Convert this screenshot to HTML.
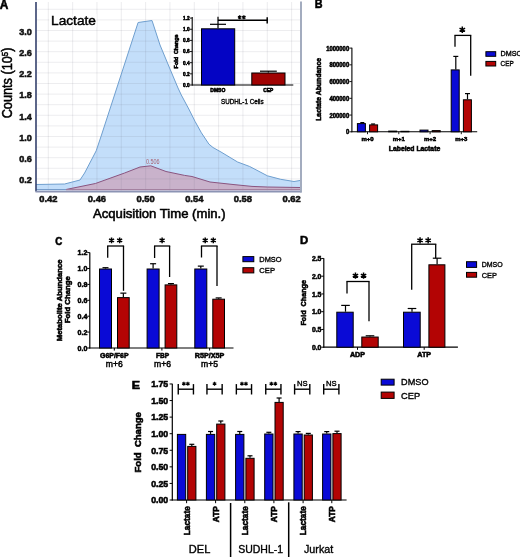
<!DOCTYPE html>
<html><head><meta charset="utf-8"><style>
html,body{margin:0;padding:0;background:#fff;}
svg{display:block;font-family:"Liberation Sans", sans-serif;will-change:transform;}
</style></head><body>
<svg width="520" height="557" viewBox="0 0 520 557">
<rect width="520" height="557" fill="#fff"/>
<polyline points="36,184.5 64.6,184 80,180 84.6,173 96.2,150.8 101.5,135 138.1,22.5 152,20.5 160,45 170,69 178,88 181.3,95 188.8,109 195.1,121.5 201.4,132.8 208.9,144.1 213,147.5 221,152 237.6,162 249.7,166.5 267.4,175.8 280.7,179.3 294,181.5 300,180.5 300,190.5 36,190.5" fill="#c3defa" stroke="none"/>
<polyline points="66,189.5 95.4,183.5 124.6,173 140,167 150.8,165.8 166,171.5 184.6,175.4 192,176.5 210,182 234,184.6 252,186.4 267.4,187 300,187.5 300,190.5 66,190.5" fill="#c9b2cb" stroke="none"/>
<line x1="48.3" y1="2" x2="48.3" y2="190.5" stroke="rgba(110,110,120,0.13)" stroke-width="1"/>
<line x1="72.63" y1="2" x2="72.63" y2="190.5" stroke="rgba(110,110,120,0.13)" stroke-width="1"/>
<line x1="96.96" y1="2" x2="96.96" y2="190.5" stroke="rgba(110,110,120,0.13)" stroke-width="1"/>
<line x1="121.29" y1="2" x2="121.29" y2="190.5" stroke="rgba(110,110,120,0.13)" stroke-width="1"/>
<line x1="145.62" y1="2" x2="145.62" y2="190.5" stroke="rgba(110,110,120,0.13)" stroke-width="1"/>
<line x1="169.95" y1="2" x2="169.95" y2="190.5" stroke="rgba(110,110,120,0.13)" stroke-width="1"/>
<line x1="194.28" y1="2" x2="194.28" y2="190.5" stroke="rgba(110,110,120,0.13)" stroke-width="1"/>
<line x1="218.61" y1="2" x2="218.61" y2="190.5" stroke="rgba(110,110,120,0.13)" stroke-width="1"/>
<line x1="242.94" y1="2" x2="242.94" y2="190.5" stroke="rgba(110,110,120,0.13)" stroke-width="1"/>
<line x1="267.27" y1="2" x2="267.27" y2="190.5" stroke="rgba(110,110,120,0.13)" stroke-width="1"/>
<line x1="291.6" y1="2" x2="291.6" y2="190.5" stroke="rgba(110,110,120,0.13)" stroke-width="1"/>
<line x1="36" y1="178.9" x2="300" y2="178.9" stroke="rgba(110,110,120,0.12)" stroke-width="1"/>
<line x1="36" y1="168.3" x2="300" y2="168.3" stroke="rgba(110,110,120,0.12)" stroke-width="1"/>
<line x1="36" y1="157.7" x2="300" y2="157.7" stroke="rgba(110,110,120,0.12)" stroke-width="1"/>
<line x1="36" y1="147.1" x2="300" y2="147.1" stroke="rgba(110,110,120,0.12)" stroke-width="1"/>
<line x1="36" y1="136.5" x2="300" y2="136.5" stroke="rgba(110,110,120,0.12)" stroke-width="1"/>
<line x1="36" y1="125.9" x2="300" y2="125.9" stroke="rgba(110,110,120,0.12)" stroke-width="1"/>
<line x1="36" y1="115.3" x2="300" y2="115.3" stroke="rgba(110,110,120,0.12)" stroke-width="1"/>
<line x1="36" y1="104.7" x2="300" y2="104.7" stroke="rgba(110,110,120,0.12)" stroke-width="1"/>
<line x1="36" y1="94.1" x2="300" y2="94.1" stroke="rgba(110,110,120,0.12)" stroke-width="1"/>
<line x1="36" y1="83.5" x2="300" y2="83.5" stroke="rgba(110,110,120,0.12)" stroke-width="1"/>
<line x1="36" y1="72.9" x2="300" y2="72.9" stroke="rgba(110,110,120,0.12)" stroke-width="1"/>
<line x1="36" y1="62.3" x2="300" y2="62.3" stroke="rgba(110,110,120,0.12)" stroke-width="1"/>
<line x1="36" y1="51.7" x2="300" y2="51.7" stroke="rgba(110,110,120,0.12)" stroke-width="1"/>
<line x1="36" y1="41.1" x2="300" y2="41.1" stroke="rgba(110,110,120,0.12)" stroke-width="1"/>
<line x1="36" y1="30.5" x2="300" y2="30.5" stroke="rgba(110,110,120,0.12)" stroke-width="1"/>
<line x1="36" y1="19.9" x2="300" y2="19.9" stroke="rgba(110,110,120,0.12)" stroke-width="1"/>
<line x1="36" y1="9.3" x2="300" y2="9.3" stroke="rgba(110,110,120,0.12)" stroke-width="1"/>
<polyline points="36,184.5 64.6,184 80,180 84.6,173 96.2,150.8 101.5,135 138.1,22.5 152,20.5 160,45 170,69 178,88 181.3,95 188.8,109 195.1,121.5 201.4,132.8 208.9,144.1 213,147.5 221,152 237.6,162 249.7,166.5 267.4,175.8 280.7,179.3 294,181.5 300,180.5" fill="none" stroke="#6f9fcf" stroke-width="1" stroke-linejoin="round"/>
<polyline points="66,189.5 95.4,183.5 124.6,173 140,167 150.8,165.8 166,171.5 184.6,175.4 192,176.5 210,182 234,184.6 252,186.4 267.4,187 300,187.5" fill="none" stroke="#8a5580" stroke-width="1" stroke-linejoin="round"/>
<line x1="36" y1="189.6" x2="66" y2="189.6" stroke="#6f95c4" stroke-width="1"/>
<line x1="66" y1="189.6" x2="300" y2="189.6" stroke="#a07c9c" stroke-width="1"/>
<line x1="36" y1="2" x2="36" y2="191.5" stroke="#34406c" stroke-width="1.6"/>
<line x1="35.5" y1="191.6" x2="301.5" y2="191.6" stroke="#8c94b4" stroke-width="1.8"/>
<line x1="301" y1="1.5" x2="301" y2="192.4" stroke="#99a3b8" stroke-width="1.8"/>
<rect x="49.3" y="14" width="47.3" height="13" fill="#fff"/>
<line x1="72.63" y1="14" x2="72.63" y2="27" stroke="rgba(110,110,120,0.08)" stroke-width="1"/>
<text x="51" y="25.2" font-size="13.6" stroke="#000" stroke-width="0.45" textLength="45" lengthAdjust="spacingAndGlyphs">Lactate</text>
<text x="31.8" y="34.8" font-size="9.4" stroke="#111" stroke-width="0.55" font-weight="bold" text-anchor="end" fill="#111" textLength="12.6" lengthAdjust="spacingAndGlyphs">3.0</text>
<text x="31.8" y="56" font-size="9.4" stroke="#111" stroke-width="0.55" font-weight="bold" text-anchor="end" fill="#111" textLength="12.6" lengthAdjust="spacingAndGlyphs">2.6</text>
<text x="31.8" y="77.2" font-size="9.4" stroke="#111" stroke-width="0.55" font-weight="bold" text-anchor="end" fill="#111" textLength="12.6" lengthAdjust="spacingAndGlyphs">2.2</text>
<text x="31.8" y="98.4" font-size="9.4" stroke="#111" stroke-width="0.55" font-weight="bold" text-anchor="end" fill="#111" textLength="12.6" lengthAdjust="spacingAndGlyphs">1.8</text>
<text x="31.8" y="119.6" font-size="9.4" stroke="#111" stroke-width="0.55" font-weight="bold" text-anchor="end" fill="#111" textLength="12.6" lengthAdjust="spacingAndGlyphs">1.4</text>
<text x="31.8" y="140.8" font-size="9.4" stroke="#111" stroke-width="0.55" font-weight="bold" text-anchor="end" fill="#111" textLength="12.6" lengthAdjust="spacingAndGlyphs">1.0</text>
<text x="31.8" y="162" font-size="9.4" stroke="#111" stroke-width="0.55" font-weight="bold" text-anchor="end" fill="#111" textLength="12.6" lengthAdjust="spacingAndGlyphs">0.6</text>
<text x="31.8" y="183.2" font-size="9.4" stroke="#111" stroke-width="0.55" font-weight="bold" text-anchor="end" fill="#111" textLength="12.6" lengthAdjust="spacingAndGlyphs">0.2</text>
<text x="48.3" y="202.4" font-size="9.6" stroke="#111" stroke-width="0.55" font-weight="bold" text-anchor="middle" fill="#111" textLength="18.2" lengthAdjust="spacingAndGlyphs">0.42</text>
<text x="96.96" y="202.4" font-size="9.6" stroke="#111" stroke-width="0.55" font-weight="bold" text-anchor="middle" fill="#111" textLength="18.2" lengthAdjust="spacingAndGlyphs">0.46</text>
<text x="145.62" y="202.4" font-size="9.6" stroke="#111" stroke-width="0.55" font-weight="bold" text-anchor="middle" fill="#111" textLength="18.2" lengthAdjust="spacingAndGlyphs">0.50</text>
<text x="194.28" y="202.4" font-size="9.6" stroke="#111" stroke-width="0.55" font-weight="bold" text-anchor="middle" fill="#111" textLength="18.2" lengthAdjust="spacingAndGlyphs">0.54</text>
<text x="242.94" y="202.4" font-size="9.6" stroke="#111" stroke-width="0.55" font-weight="bold" text-anchor="middle" fill="#111" textLength="18.2" lengthAdjust="spacingAndGlyphs">0.58</text>
<text x="291.6" y="202.4" font-size="9.6" stroke="#111" stroke-width="0.55" font-weight="bold" text-anchor="middle" fill="#111" textLength="18.2" lengthAdjust="spacingAndGlyphs">0.62</text>
<text x="93" y="218.3" font-size="13" stroke="#000" stroke-width="0.55" textLength="132.6" lengthAdjust="spacingAndGlyphs">Acquisition Time (min.)</text>
<text x="11.8" y="118.3" font-size="13.8" stroke="#000" stroke-width="0.5" textLength="70.8" lengthAdjust="spacingAndGlyphs" transform="rotate(-90 11.8 118.3)">Counts (10<tspan font-size="8.6" dy="-4">5</tspan><tspan dy="4">)</tspan></text>
<text x="146" y="164.2" font-size="6.5" fill="#a86070" textLength="13.6" lengthAdjust="spacingAndGlyphs">0.506</text>
<line x1="192.2" y1="17" x2="192.2" y2="85.5" stroke="#000" stroke-width="1.1"/>
<line x1="192" y1="85" x2="293.3" y2="85" stroke="#000" stroke-width="1.1"/>
<line x1="189.8" y1="85" x2="192.2" y2="85" stroke="#000" stroke-width="0.9"/>
<text x="189.6" y="86.9" font-size="5.4" stroke="#000" stroke-width="0.55" font-weight="bold" text-anchor="end" textLength="6.6" lengthAdjust="spacingAndGlyphs">0.0</text>
<line x1="189.8" y1="73.85" x2="192.2" y2="73.85" stroke="#000" stroke-width="0.9"/>
<text x="189.6" y="75.75" font-size="5.4" stroke="#000" stroke-width="0.55" font-weight="bold" text-anchor="end" textLength="6.6" lengthAdjust="spacingAndGlyphs">0.2</text>
<line x1="189.8" y1="62.7" x2="192.2" y2="62.7" stroke="#000" stroke-width="0.9"/>
<text x="189.6" y="64.6" font-size="5.4" stroke="#000" stroke-width="0.55" font-weight="bold" text-anchor="end" textLength="6.6" lengthAdjust="spacingAndGlyphs">0.4</text>
<line x1="189.8" y1="51.55" x2="192.2" y2="51.55" stroke="#000" stroke-width="0.9"/>
<text x="189.6" y="53.45" font-size="5.4" stroke="#000" stroke-width="0.55" font-weight="bold" text-anchor="end" textLength="6.6" lengthAdjust="spacingAndGlyphs">0.6</text>
<line x1="189.8" y1="40.4" x2="192.2" y2="40.4" stroke="#000" stroke-width="0.9"/>
<text x="189.6" y="42.3" font-size="5.4" stroke="#000" stroke-width="0.55" font-weight="bold" text-anchor="end" textLength="6.6" lengthAdjust="spacingAndGlyphs">0.8</text>
<line x1="189.8" y1="29.25" x2="192.2" y2="29.25" stroke="#000" stroke-width="0.9"/>
<text x="189.6" y="31.15" font-size="5.4" stroke="#000" stroke-width="0.55" font-weight="bold" text-anchor="end" textLength="6.6" lengthAdjust="spacingAndGlyphs">1.0</text>
<line x1="189.8" y1="18.1" x2="192.2" y2="18.1" stroke="#000" stroke-width="0.9"/>
<text x="189.6" y="20" font-size="5.4" stroke="#000" stroke-width="0.55" font-weight="bold" text-anchor="end" textLength="6.6" lengthAdjust="spacingAndGlyphs">1.2</text>
<text x="178" y="51.4" font-size="5.4" stroke="#000" stroke-width="0.55" font-weight="bold" text-anchor="middle" textLength="34" lengthAdjust="spacingAndGlyphs" transform="rotate(-90 178 51.4)">Fold&#160;&#160;Change</text>
<rect x="201.5" y="28.8" width="33.2" height="56.2" fill="#0404c4" stroke="#000" stroke-width="1"/>
<line x1="218" y1="28.3" x2="218" y2="24.3" stroke="#000" stroke-width="1.2"/>
<line x1="210" y1="24.3" x2="226" y2="24.3" stroke="#000" stroke-width="1.2"/>
<rect x="251.8" y="73" width="33.2" height="12" fill="#a00303" stroke="#000" stroke-width="1"/>
<line x1="268.4" y1="72.5" x2="268.4" y2="71.2" stroke="#000" stroke-width="1.2"/>
<line x1="260" y1="71.2" x2="276.8" y2="71.2" stroke="#000" stroke-width="1.2"/>
<line x1="218" y1="24.3" x2="218" y2="16.7" stroke="#000" stroke-width="1.2"/>
<line x1="218" y1="20.2" x2="267.2" y2="20.2" stroke="#000" stroke-width="1.5"/>
<line x1="267.2" y1="17.2" x2="267.2" y2="23.6" stroke="#000" stroke-width="1.5"/>
<path d="M239.7 15.2V19.2M237.97 16.2L241.43 18.2M237.97 18.2L241.43 16.2" stroke="#000" stroke-width="1.3" fill="none"/>
<path d="M243.9 15.2V19.2M242.17 16.2L245.63 18.2M242.17 18.2L245.63 16.2" stroke="#000" stroke-width="1.3" fill="none"/>
<text x="217.8" y="92.2" font-size="5.2" stroke="#000" stroke-width="0.55" font-weight="bold" text-anchor="middle" textLength="15.1" lengthAdjust="spacingAndGlyphs">DMSO</text>
<text x="268.2" y="92.2" font-size="5.2" stroke="#000" stroke-width="0.55" font-weight="bold" text-anchor="middle" textLength="10" lengthAdjust="spacingAndGlyphs">CEP</text>
<text x="221" y="103.6" font-size="6.6" stroke="#000" stroke-width="0.35" textLength="42.6" lengthAdjust="spacingAndGlyphs">SUDHL-1 Cells</text>
<text x="-0.2" y="8.6" font-size="12.6" stroke="#000" stroke-width="0.55" font-weight="bold" textLength="8.6" lengthAdjust="spacingAndGlyphs">A</text>
<text x="314.7" y="8.4" font-size="12" stroke="#000" stroke-width="0.55" font-weight="bold" textLength="7.8" lengthAdjust="spacingAndGlyphs">B</text>
<line x1="351.9" y1="47.8" x2="351.9" y2="132.3" stroke="#000" stroke-width="1.1"/>
<line x1="351.4" y1="131.8" x2="477.2" y2="131.8" stroke="#000" stroke-width="1.1"/>
<line x1="349.4" y1="131.8" x2="351.9" y2="131.8" stroke="#000" stroke-width="0.9"/>
<text x="349.2" y="134.3" font-size="6.8" stroke="#000" stroke-width="0.55" font-weight="bold" text-anchor="end" textLength="3.29" lengthAdjust="spacingAndGlyphs">0</text>
<line x1="349.4" y1="115.06" x2="351.9" y2="115.06" stroke="#000" stroke-width="0.9"/>
<text x="349.2" y="117.56" font-size="6.8" stroke="#000" stroke-width="0.55" font-weight="bold" text-anchor="end" textLength="19.74" lengthAdjust="spacingAndGlyphs">200000</text>
<line x1="349.4" y1="98.32" x2="351.9" y2="98.32" stroke="#000" stroke-width="0.9"/>
<text x="349.2" y="100.82" font-size="6.8" stroke="#000" stroke-width="0.55" font-weight="bold" text-anchor="end" textLength="19.74" lengthAdjust="spacingAndGlyphs">400000</text>
<line x1="349.4" y1="81.58" x2="351.9" y2="81.58" stroke="#000" stroke-width="0.9"/>
<text x="349.2" y="84.08" font-size="6.8" stroke="#000" stroke-width="0.55" font-weight="bold" text-anchor="end" textLength="19.74" lengthAdjust="spacingAndGlyphs">600000</text>
<line x1="349.4" y1="64.84" x2="351.9" y2="64.84" stroke="#000" stroke-width="0.9"/>
<text x="349.2" y="67.34" font-size="6.8" stroke="#000" stroke-width="0.55" font-weight="bold" text-anchor="end" textLength="19.74" lengthAdjust="spacingAndGlyphs">800000</text>
<line x1="349.4" y1="48.1" x2="351.9" y2="48.1" stroke="#000" stroke-width="0.9"/>
<text x="349.2" y="50.6" font-size="6.8" stroke="#000" stroke-width="0.55" font-weight="bold" text-anchor="end" textLength="23.03" lengthAdjust="spacingAndGlyphs">1000000</text>
<text x="321.1" y="89.4" font-size="6.8" stroke="#000" stroke-width="0.55" font-weight="bold" text-anchor="middle" textLength="62.8" lengthAdjust="spacingAndGlyphs" transform="rotate(-90 321.1 89.4)">Lactate Abundance</text>
<rect x="357.4" y="123.6" width="8" height="8.2" fill="#0a0ad6" stroke="#000" stroke-width="1"/>
<rect x="369.6" y="124.9" width="8" height="6.9" fill="#b30404" stroke="#000" stroke-width="1"/>
<line x1="367.5" y1="131.8" x2="367.5" y2="134.2" stroke="#000" stroke-width="0.9"/>
<rect x="388.7" y="131.1" width="8" height="0.7" fill="#0a0ad6" stroke="#000" stroke-width="1"/>
<rect x="400.9" y="131.3" width="8" height="0.5" fill="#b30404" stroke="#000" stroke-width="1"/>
<line x1="398.8" y1="131.8" x2="398.8" y2="134.2" stroke="#000" stroke-width="0.9"/>
<rect x="420" y="130.1" width="8" height="1.7" fill="#0a0ad6" stroke="#000" stroke-width="1"/>
<rect x="432.2" y="130.6" width="8" height="1.2" fill="#b30404" stroke="#000" stroke-width="1"/>
<line x1="430.1" y1="131.8" x2="430.1" y2="134.2" stroke="#000" stroke-width="0.9"/>
<rect x="451.2" y="69.9" width="8" height="61.9" fill="#0a0ad6" stroke="#000" stroke-width="1"/>
<rect x="463.4" y="99.8" width="8" height="32" fill="#b30404" stroke="#000" stroke-width="1"/>
<line x1="461.3" y1="131.8" x2="461.3" y2="134.2" stroke="#000" stroke-width="0.9"/>
<line x1="455.8" y1="69.4" x2="455.8" y2="56.4" stroke="#000" stroke-width="1.2"/>
<line x1="453.3" y1="56.4" x2="458.3" y2="56.4" stroke="#000" stroke-width="1.2"/>
<line x1="467.5" y1="99.3" x2="467.5" y2="93.6" stroke="#000" stroke-width="1.2"/>
<line x1="465" y1="93.6" x2="470" y2="93.6" stroke="#000" stroke-width="1.2"/>
<line x1="362.3" y1="123.1" x2="362.3" y2="122.6" stroke="#000" stroke-width="1.2"/>
<line x1="360.3" y1="122.6" x2="364.3" y2="122.6" stroke="#000" stroke-width="1.2"/>
<line x1="373.1" y1="124.4" x2="373.1" y2="124" stroke="#000" stroke-width="1.2"/>
<line x1="371.1" y1="124" x2="375.1" y2="124" stroke="#000" stroke-width="1.2"/>
<text x="367.5" y="140.8" font-size="6.2" stroke="#000" stroke-width="0.55" font-weight="bold" text-anchor="middle" textLength="12.2" lengthAdjust="spacingAndGlyphs">m+0</text>
<text x="398.8" y="140.8" font-size="6.2" stroke="#000" stroke-width="0.55" font-weight="bold" text-anchor="middle" textLength="12.2" lengthAdjust="spacingAndGlyphs">m+1</text>
<text x="430.1" y="140.8" font-size="6.2" stroke="#000" stroke-width="0.55" font-weight="bold" text-anchor="middle" textLength="12.2" lengthAdjust="spacingAndGlyphs">m+2</text>
<text x="461.3" y="140.8" font-size="6.2" stroke="#000" stroke-width="0.55" font-weight="bold" text-anchor="middle" textLength="12.2" lengthAdjust="spacingAndGlyphs">m+3</text>
<text x="414.5" y="150.5" font-size="6.8" stroke="#000" stroke-width="0.55" font-weight="bold" text-anchor="middle" textLength="51.4" lengthAdjust="spacingAndGlyphs">Labeled Lactate</text>
<line x1="455" y1="46.7" x2="455" y2="35.4" stroke="#000" stroke-width="1.3"/>
<line x1="454.4" y1="35.4" x2="471.3" y2="35.4" stroke="#000" stroke-width="1.3"/>
<line x1="470.7" y1="35.4" x2="470.7" y2="75.8" stroke="#000" stroke-width="1.3"/>
<path d="M462.3 26.5V32.9M459.53 28.1L465.07 31.3M459.53 31.3L465.07 28.1" stroke="#000" stroke-width="1.5" fill="none"/>
<rect x="485.9" y="51.7" width="9.8" height="4.6" fill="#0a0ad6" stroke="#000" stroke-width="1"/>
<rect x="485.9" y="61.4" width="9.8" height="4.6" fill="#b30404" stroke="#000" stroke-width="1"/>
<text x="500.6" y="56.4" font-size="7" stroke="#000" stroke-width="0.35" textLength="21.5" lengthAdjust="spacingAndGlyphs">DMSO</text>
<text x="500.6" y="65.9" font-size="7" stroke="#000" stroke-width="0.35" textLength="13.2" lengthAdjust="spacingAndGlyphs">CEP</text>
<text x="55.2" y="245.2" font-size="11" stroke="#000" stroke-width="0.55" font-weight="bold" textLength="7" lengthAdjust="spacingAndGlyphs">C</text>
<line x1="89.8" y1="252.4" x2="89.8" y2="348.5" stroke="#000" stroke-width="1.2"/>
<line x1="89.3" y1="348" x2="233.5" y2="348" stroke="#000" stroke-width="1.2"/>
<line x1="87.2" y1="348" x2="89.8" y2="348" stroke="#000" stroke-width="1"/>
<text x="87.4" y="350.7" font-size="7.5" stroke="#000" stroke-width="0.55" font-weight="bold" text-anchor="end" textLength="9.8" lengthAdjust="spacingAndGlyphs">0.0</text>
<line x1="87.2" y1="332.1" x2="89.8" y2="332.1" stroke="#000" stroke-width="1"/>
<text x="87.4" y="334.8" font-size="7.5" stroke="#000" stroke-width="0.55" font-weight="bold" text-anchor="end" textLength="9.8" lengthAdjust="spacingAndGlyphs">0.2</text>
<line x1="87.2" y1="316.2" x2="89.8" y2="316.2" stroke="#000" stroke-width="1"/>
<text x="87.4" y="318.9" font-size="7.5" stroke="#000" stroke-width="0.55" font-weight="bold" text-anchor="end" textLength="9.8" lengthAdjust="spacingAndGlyphs">0.4</text>
<line x1="87.2" y1="300.3" x2="89.8" y2="300.3" stroke="#000" stroke-width="1"/>
<text x="87.4" y="303" font-size="7.5" stroke="#000" stroke-width="0.55" font-weight="bold" text-anchor="end" textLength="9.8" lengthAdjust="spacingAndGlyphs">0.6</text>
<line x1="87.2" y1="284.4" x2="89.8" y2="284.4" stroke="#000" stroke-width="1"/>
<text x="87.4" y="287.1" font-size="7.5" stroke="#000" stroke-width="0.55" font-weight="bold" text-anchor="end" textLength="9.8" lengthAdjust="spacingAndGlyphs">0.8</text>
<line x1="87.2" y1="268.5" x2="89.8" y2="268.5" stroke="#000" stroke-width="1"/>
<text x="87.4" y="271.2" font-size="7.5" stroke="#000" stroke-width="0.55" font-weight="bold" text-anchor="end" textLength="9.8" lengthAdjust="spacingAndGlyphs">1.0</text>
<line x1="87.2" y1="252.6" x2="89.8" y2="252.6" stroke="#000" stroke-width="1"/>
<text x="87.4" y="255.3" font-size="7.5" stroke="#000" stroke-width="0.55" font-weight="bold" text-anchor="end" textLength="9.8" lengthAdjust="spacingAndGlyphs">1.2</text>
<text x="62.2" y="300.3" font-size="7.6" stroke="#000" stroke-width="0.55" font-weight="bold" text-anchor="middle" textLength="81.7" lengthAdjust="spacingAndGlyphs" transform="rotate(-90 62.2 300.3)">Metabolite Abundance</text>
<text x="70.3" y="299.7" font-size="7.6" stroke="#000" stroke-width="0.55" font-weight="bold" text-anchor="middle" textLength="47" lengthAdjust="spacingAndGlyphs" transform="rotate(-90 70.3 299.7)">Fold Change</text>
<rect x="99.5" y="269" width="12" height="79" fill="#0a0ad6" stroke="#000" stroke-width="1"/>
<rect x="117.5" y="297.62" width="11.7" height="50.38" fill="#b30404" stroke="#000" stroke-width="1"/>
<line x1="105.5" y1="268.5" x2="105.5" y2="267.7" stroke="#000" stroke-width="1.2"/>
<line x1="102.5" y1="267.7" x2="108.5" y2="267.7" stroke="#000" stroke-width="1.2"/>
<line x1="123.35" y1="297.12" x2="123.35" y2="293.14" stroke="#000" stroke-width="1.2"/>
<line x1="120.35" y1="293.14" x2="126.35" y2="293.14" stroke="#000" stroke-width="1.2"/>
<line x1="114.3" y1="348" x2="114.3" y2="350.6" stroke="#000" stroke-width="1"/>
<rect x="147.1" y="269" width="12" height="79" fill="#0a0ad6" stroke="#000" stroke-width="1"/>
<rect x="165.1" y="284.9" width="11.7" height="63.1" fill="#b30404" stroke="#000" stroke-width="1"/>
<line x1="153.1" y1="268.5" x2="153.1" y2="263.73" stroke="#000" stroke-width="1.2"/>
<line x1="150.1" y1="263.73" x2="156.1" y2="263.73" stroke="#000" stroke-width="1.2"/>
<line x1="170.95" y1="284.4" x2="170.95" y2="283.61" stroke="#000" stroke-width="1.2"/>
<line x1="167.95" y1="283.61" x2="173.95" y2="283.61" stroke="#000" stroke-width="1.2"/>
<line x1="161.9" y1="348" x2="161.9" y2="350.6" stroke="#000" stroke-width="1"/>
<rect x="194.8" y="269" width="12" height="79" fill="#0a0ad6" stroke="#000" stroke-width="1"/>
<rect x="212.8" y="299.21" width="11.7" height="48.79" fill="#b30404" stroke="#000" stroke-width="1"/>
<line x1="200.8" y1="268.5" x2="200.8" y2="266.12" stroke="#000" stroke-width="1.2"/>
<line x1="197.8" y1="266.12" x2="203.8" y2="266.12" stroke="#000" stroke-width="1.2"/>
<line x1="218.65" y1="298.71" x2="218.65" y2="297.92" stroke="#000" stroke-width="1.2"/>
<line x1="215.65" y1="297.92" x2="221.65" y2="297.92" stroke="#000" stroke-width="1.2"/>
<line x1="209.6" y1="348" x2="209.6" y2="350.6" stroke="#000" stroke-width="1"/>
<text x="114.3" y="358.2" font-size="7.2" stroke="#000" stroke-width="0.55" font-weight="bold" text-anchor="middle" textLength="28.5" lengthAdjust="spacingAndGlyphs">G6P/F6P</text>
<text x="114.3" y="367" font-size="9.6" stroke="#000" stroke-width="0.5" text-anchor="middle" textLength="17" lengthAdjust="spacingAndGlyphs">m+6</text>
<text x="162.6" y="358.2" font-size="7.2" stroke="#000" stroke-width="0.55" font-weight="bold" text-anchor="middle" textLength="13.2" lengthAdjust="spacingAndGlyphs">FBP</text>
<text x="162.6" y="367" font-size="9.6" stroke="#000" stroke-width="0.5" text-anchor="middle" textLength="17" lengthAdjust="spacingAndGlyphs">m+6</text>
<text x="209.6" y="358.2" font-size="7.2" stroke="#000" stroke-width="0.55" font-weight="bold" text-anchor="middle" textLength="29.5" lengthAdjust="spacingAndGlyphs">R5P/X5P</text>
<text x="209.6" y="367" font-size="9.6" stroke="#000" stroke-width="0.5" text-anchor="middle" textLength="17" lengthAdjust="spacingAndGlyphs">m+5</text>
<line x1="107.7" y1="257.7" x2="107.7" y2="246" stroke="#000" stroke-width="1.3"/>
<line x1="107.1" y1="246" x2="124.1" y2="246" stroke="#000" stroke-width="1.3"/>
<line x1="123.5" y1="246" x2="123.5" y2="290.8" stroke="#000" stroke-width="1.3"/>
<path d="M111.55 237.5V243.3M109.04 238.95L114.06 241.85M109.04 241.85L114.06 238.95" stroke="#000" stroke-width="1.5" fill="none"/>
<path d="M119.65 237.5V243.3M117.14 238.95L122.16 241.85M117.14 241.85L122.16 238.95" stroke="#000" stroke-width="1.5" fill="none"/>
<line x1="154.6" y1="258" x2="154.6" y2="246" stroke="#000" stroke-width="1.3"/>
<line x1="154" y1="246" x2="170.2" y2="246" stroke="#000" stroke-width="1.3"/>
<line x1="169.6" y1="246" x2="169.6" y2="277" stroke="#000" stroke-width="1.3"/>
<path d="M162.1 237.5V243.3M159.59 238.95L164.61 241.85M159.59 241.85L164.61 238.95" stroke="#000" stroke-width="1.5" fill="none"/>
<line x1="201.5" y1="257.5" x2="201.5" y2="246" stroke="#000" stroke-width="1.3"/>
<line x1="200.9" y1="246" x2="217.6" y2="246" stroke="#000" stroke-width="1.3"/>
<line x1="217" y1="246" x2="217" y2="286" stroke="#000" stroke-width="1.3"/>
<path d="M205.2 237.5V243.3M202.69 238.95L207.71 241.85M202.69 241.85L207.71 238.95" stroke="#000" stroke-width="1.5" fill="none"/>
<path d="M213.3 237.5V243.3M210.79 238.95L215.81 241.85M210.79 241.85L215.81 238.95" stroke="#000" stroke-width="1.5" fill="none"/>
<rect x="242.9" y="256.6" width="10.9" height="5.1" fill="#0a0ad6" stroke="#000" stroke-width="1"/>
<rect x="242.9" y="267.7" width="10.9" height="5.2" fill="#b30404" stroke="#000" stroke-width="1"/>
<text x="259.3" y="261.9" font-size="7.8" stroke="#000" stroke-width="0.35" textLength="22.3" lengthAdjust="spacingAndGlyphs">DMSO</text>
<text x="259.3" y="273" font-size="7.8" stroke="#000" stroke-width="0.35" textLength="15.7" lengthAdjust="spacingAndGlyphs">CEP</text>
<text x="300.1" y="244.3" font-size="11.8" stroke="#000" stroke-width="0.55" font-weight="bold" textLength="8.2" lengthAdjust="spacingAndGlyphs">D</text>
<line x1="323.8" y1="258.2" x2="323.8" y2="347.7" stroke="#000" stroke-width="1.2"/>
<line x1="323.3" y1="347.2" x2="457.9" y2="347.2" stroke="#000" stroke-width="1.2"/>
<line x1="321.2" y1="347.2" x2="323.8" y2="347.2" stroke="#000" stroke-width="1"/>
<text x="321.4" y="349.8" font-size="7.2" stroke="#000" stroke-width="0.55" font-weight="bold" text-anchor="end" textLength="9.5" lengthAdjust="spacingAndGlyphs">0.0</text>
<line x1="321.2" y1="329.45" x2="323.8" y2="329.45" stroke="#000" stroke-width="1"/>
<text x="321.4" y="332.05" font-size="7.2" stroke="#000" stroke-width="0.55" font-weight="bold" text-anchor="end" textLength="9.5" lengthAdjust="spacingAndGlyphs">0.5</text>
<line x1="321.2" y1="311.7" x2="323.8" y2="311.7" stroke="#000" stroke-width="1"/>
<text x="321.4" y="314.3" font-size="7.2" stroke="#000" stroke-width="0.55" font-weight="bold" text-anchor="end" textLength="9.5" lengthAdjust="spacingAndGlyphs">1.0</text>
<line x1="321.2" y1="293.95" x2="323.8" y2="293.95" stroke="#000" stroke-width="1"/>
<text x="321.4" y="296.55" font-size="7.2" stroke="#000" stroke-width="0.55" font-weight="bold" text-anchor="end" textLength="9.5" lengthAdjust="spacingAndGlyphs">1.5</text>
<line x1="321.2" y1="276.2" x2="323.8" y2="276.2" stroke="#000" stroke-width="1"/>
<text x="321.4" y="278.8" font-size="7.2" stroke="#000" stroke-width="0.55" font-weight="bold" text-anchor="end" textLength="9.5" lengthAdjust="spacingAndGlyphs">2.0</text>
<line x1="321.2" y1="258.45" x2="323.8" y2="258.45" stroke="#000" stroke-width="1"/>
<text x="321.4" y="261.05" font-size="7.2" stroke="#000" stroke-width="0.55" font-weight="bold" text-anchor="end" textLength="9.5" lengthAdjust="spacingAndGlyphs">2.5</text>
<text x="306.5" y="302.8" font-size="7.2" stroke="#000" stroke-width="0.55" font-weight="bold" text-anchor="middle" textLength="45.4" lengthAdjust="spacingAndGlyphs" transform="rotate(-90 306.5 302.8)">Fold&#160;&#160;Change</text>
<rect x="336.8" y="312.2" width="16.4" height="35" fill="#0a0ad6" stroke="#000" stroke-width="1"/>
<rect x="361.8" y="337.05" width="16.4" height="10.15" fill="#b30404" stroke="#000" stroke-width="1"/>
<line x1="345.5" y1="311.7" x2="345.5" y2="305.4" stroke="#000" stroke-width="1.2"/>
<line x1="341.2" y1="305.4" x2="349.8" y2="305.4" stroke="#000" stroke-width="1.2"/>
<line x1="370" y1="336.55" x2="370" y2="335.8" stroke="#000" stroke-width="1.2"/>
<line x1="365.7" y1="335.8" x2="374.3" y2="335.8" stroke="#000" stroke-width="1.2"/>
<rect x="403.5" y="312.2" width="16.7" height="35" fill="#0a0ad6" stroke="#000" stroke-width="1"/>
<rect x="428.9" y="264.8" width="16" height="82.4" fill="#b30404" stroke="#000" stroke-width="1"/>
<line x1="412" y1="311.7" x2="412" y2="308.5" stroke="#000" stroke-width="1.2"/>
<line x1="407.7" y1="308.5" x2="416.3" y2="308.5" stroke="#000" stroke-width="1.2"/>
<line x1="437.1" y1="264.3" x2="437.1" y2="258.2" stroke="#000" stroke-width="1.2"/>
<line x1="432.8" y1="258.2" x2="441.4" y2="258.2" stroke="#000" stroke-width="1.2"/>
<line x1="357.5" y1="347.2" x2="357.5" y2="349.8" stroke="#000" stroke-width="1"/>
<line x1="424.2" y1="347.2" x2="424.2" y2="349.8" stroke="#000" stroke-width="1"/>
<text x="357.5" y="356.6" font-size="7.2" stroke="#000" stroke-width="0.55" font-weight="bold" text-anchor="middle">ADP</text>
<text x="424.2" y="357.4" font-size="7.2" stroke="#000" stroke-width="0.55" font-weight="bold" text-anchor="middle">ATP</text>
<line x1="347" y1="293.5" x2="347" y2="281.5" stroke="#000" stroke-width="1.3"/>
<line x1="346.4" y1="281.5" x2="369.6" y2="281.5" stroke="#000" stroke-width="1.3"/>
<line x1="369" y1="281.5" x2="369" y2="321.3" stroke="#000" stroke-width="1.3"/>
<path d="M355.45 272.6V278.8M352.77 274.15L358.13 277.25M352.77 277.25L358.13 274.15" stroke="#000" stroke-width="1.5" fill="none"/>
<path d="M363.55 272.6V278.8M360.87 274.15L366.23 277.25M360.87 277.25L366.23 274.15" stroke="#000" stroke-width="1.5" fill="none"/>
<line x1="411.7" y1="289.7" x2="411.7" y2="244.2" stroke="#000" stroke-width="1.3"/>
<line x1="411.1" y1="244.2" x2="436.3" y2="244.2" stroke="#000" stroke-width="1.3"/>
<line x1="435.7" y1="244.2" x2="435.7" y2="258.2" stroke="#000" stroke-width="1.3"/>
<path d="M420.05 237.3V243.5M417.37 238.85L422.73 241.95M417.37 241.95L422.73 238.85" stroke="#000" stroke-width="1.5" fill="none"/>
<path d="M428.15 237.3V243.5M425.47 238.85L430.83 241.95M425.47 241.95L430.83 238.85" stroke="#000" stroke-width="1.5" fill="none"/>
<rect x="466.5" y="261.7" width="10.1" height="5.7" fill="#0a0ad6" stroke="#000" stroke-width="1"/>
<rect x="466.5" y="272.4" width="10.1" height="4.8" fill="#b30404" stroke="#000" stroke-width="1"/>
<text x="481.7" y="267.3" font-size="7.4" stroke="#000" stroke-width="0.35" textLength="21" lengthAdjust="spacingAndGlyphs">DMSO</text>
<text x="481.7" y="277.7" font-size="7.4" stroke="#000" stroke-width="0.35" textLength="15.2" lengthAdjust="spacingAndGlyphs">CEP</text>
<text x="131.7" y="389.2" font-size="10.5" stroke="#000" stroke-width="0.55" font-weight="bold" textLength="8.3" lengthAdjust="spacingAndGlyphs">E</text>
<line x1="172.3" y1="383.8" x2="172.3" y2="500.5" stroke="#000" stroke-width="1.2"/>
<line x1="171.8" y1="500" x2="346.6" y2="500" stroke="#000" stroke-width="1.2"/>
<line x1="169.6" y1="500" x2="172.3" y2="500" stroke="#000" stroke-width="1"/>
<text x="168.2" y="503.3" font-size="8.7" stroke="#000" stroke-width="0.55" font-weight="bold" text-anchor="end" textLength="17" lengthAdjust="spacingAndGlyphs">0.00</text>
<line x1="169.6" y1="483.43" x2="172.3" y2="483.43" stroke="#000" stroke-width="1"/>
<text x="168.2" y="486.73" font-size="8.7" stroke="#000" stroke-width="0.55" font-weight="bold" text-anchor="end" textLength="17" lengthAdjust="spacingAndGlyphs">0.25</text>
<line x1="169.6" y1="466.85" x2="172.3" y2="466.85" stroke="#000" stroke-width="1"/>
<text x="168.2" y="470.15" font-size="8.7" stroke="#000" stroke-width="0.55" font-weight="bold" text-anchor="end" textLength="17" lengthAdjust="spacingAndGlyphs">0.50</text>
<line x1="169.6" y1="450.27" x2="172.3" y2="450.27" stroke="#000" stroke-width="1"/>
<text x="168.2" y="453.57" font-size="8.7" stroke="#000" stroke-width="0.55" font-weight="bold" text-anchor="end" textLength="17" lengthAdjust="spacingAndGlyphs">0.75</text>
<line x1="169.6" y1="433.7" x2="172.3" y2="433.7" stroke="#000" stroke-width="1"/>
<text x="168.2" y="437" font-size="8.7" stroke="#000" stroke-width="0.55" font-weight="bold" text-anchor="end" textLength="17" lengthAdjust="spacingAndGlyphs">1.00</text>
<line x1="169.6" y1="417.12" x2="172.3" y2="417.12" stroke="#000" stroke-width="1"/>
<text x="168.2" y="420.43" font-size="8.7" stroke="#000" stroke-width="0.55" font-weight="bold" text-anchor="end" textLength="17" lengthAdjust="spacingAndGlyphs">1.25</text>
<line x1="169.6" y1="400.55" x2="172.3" y2="400.55" stroke="#000" stroke-width="1"/>
<text x="168.2" y="403.85" font-size="8.7" stroke="#000" stroke-width="0.55" font-weight="bold" text-anchor="end" textLength="17" lengthAdjust="spacingAndGlyphs">1.50</text>
<line x1="169.6" y1="383.98" x2="172.3" y2="383.98" stroke="#000" stroke-width="1"/>
<text x="168.2" y="387.28" font-size="8.7" stroke="#000" stroke-width="0.55" font-weight="bold" text-anchor="end" textLength="17" lengthAdjust="spacingAndGlyphs">1.75</text>
<text x="140.9" y="442.3" font-size="9.5" stroke="#000" stroke-width="0.55" font-weight="bold" text-anchor="middle" textLength="60.3" lengthAdjust="spacingAndGlyphs" transform="rotate(-90 140.9 442.3)">Fold&#160;&#160;Change</text>
<rect x="177.4" y="434.4" width="8.3" height="65.6" fill="#0a0ad6" stroke="#000" stroke-width="1"/>
<rect x="187.7" y="446.4" width="8.2" height="53.6" fill="#b30404" stroke="#000" stroke-width="1"/>
<line x1="191.8" y1="445.9" x2="191.8" y2="444.3" stroke="#000" stroke-width="1.2"/>
<line x1="189.3" y1="444.3" x2="194.3" y2="444.3" stroke="#000" stroke-width="1.2"/>
<line x1="186.6" y1="500" x2="186.6" y2="503.2" stroke="#000" stroke-width="1"/>
<rect x="206.4" y="434.4" width="8.3" height="65.6" fill="#0a0ad6" stroke="#000" stroke-width="1"/>
<rect x="216.7" y="424.1" width="8.2" height="75.9" fill="#b30404" stroke="#000" stroke-width="1"/>
<line x1="210.55" y1="433.9" x2="210.55" y2="431.5" stroke="#000" stroke-width="1.2"/>
<line x1="208.05" y1="431.5" x2="213.05" y2="431.5" stroke="#000" stroke-width="1.2"/>
<line x1="220.8" y1="423.6" x2="220.8" y2="421" stroke="#000" stroke-width="1.2"/>
<line x1="218.3" y1="421" x2="223.3" y2="421" stroke="#000" stroke-width="1.2"/>
<line x1="215.6" y1="500" x2="215.6" y2="503.2" stroke="#000" stroke-width="1"/>
<rect x="235.6" y="434.4" width="8.3" height="65.6" fill="#0a0ad6" stroke="#000" stroke-width="1"/>
<rect x="245.9" y="458.3" width="8.2" height="41.7" fill="#b30404" stroke="#000" stroke-width="1"/>
<line x1="239.75" y1="433.9" x2="239.75" y2="431.5" stroke="#000" stroke-width="1.2"/>
<line x1="237.25" y1="431.5" x2="242.25" y2="431.5" stroke="#000" stroke-width="1.2"/>
<line x1="250" y1="457.8" x2="250" y2="455.8" stroke="#000" stroke-width="1.2"/>
<line x1="247.5" y1="455.8" x2="252.5" y2="455.8" stroke="#000" stroke-width="1.2"/>
<line x1="244.8" y1="500" x2="244.8" y2="503.2" stroke="#000" stroke-width="1"/>
<rect x="264.7" y="434" width="8.3" height="66" fill="#0a0ad6" stroke="#000" stroke-width="1"/>
<rect x="275" y="402.4" width="8.2" height="97.6" fill="#b30404" stroke="#000" stroke-width="1"/>
<line x1="268.85" y1="433.5" x2="268.85" y2="432.3" stroke="#000" stroke-width="1.2"/>
<line x1="266.35" y1="432.3" x2="271.35" y2="432.3" stroke="#000" stroke-width="1.2"/>
<line x1="279.1" y1="401.9" x2="279.1" y2="398" stroke="#000" stroke-width="1.2"/>
<line x1="276.6" y1="398" x2="281.6" y2="398" stroke="#000" stroke-width="1.2"/>
<line x1="273.9" y1="500" x2="273.9" y2="503.2" stroke="#000" stroke-width="1"/>
<rect x="293.9" y="434" width="8.3" height="66" fill="#0a0ad6" stroke="#000" stroke-width="1"/>
<rect x="304.2" y="435" width="8.2" height="65" fill="#b30404" stroke="#000" stroke-width="1"/>
<line x1="298.05" y1="433.5" x2="298.05" y2="431.6" stroke="#000" stroke-width="1.2"/>
<line x1="295.55" y1="431.6" x2="300.55" y2="431.6" stroke="#000" stroke-width="1.2"/>
<line x1="308.3" y1="434.5" x2="308.3" y2="433.4" stroke="#000" stroke-width="1.2"/>
<line x1="305.8" y1="433.4" x2="310.8" y2="433.4" stroke="#000" stroke-width="1.2"/>
<line x1="303.1" y1="500" x2="303.1" y2="503.2" stroke="#000" stroke-width="1"/>
<rect x="322.6" y="434" width="8.3" height="66" fill="#0a0ad6" stroke="#000" stroke-width="1"/>
<rect x="332.9" y="433.6" width="8.2" height="66.4" fill="#b30404" stroke="#000" stroke-width="1"/>
<line x1="326.75" y1="433.5" x2="326.75" y2="431.6" stroke="#000" stroke-width="1.2"/>
<line x1="324.25" y1="431.6" x2="329.25" y2="431.6" stroke="#000" stroke-width="1.2"/>
<line x1="337" y1="433.1" x2="337" y2="431.2" stroke="#000" stroke-width="1.2"/>
<line x1="334.5" y1="431.2" x2="339.5" y2="431.2" stroke="#000" stroke-width="1.2"/>
<line x1="331.8" y1="500" x2="331.8" y2="503.2" stroke="#000" stroke-width="1"/>
<text x="189.6" y="506.2" font-size="8.3" stroke="#000" stroke-width="0.55" font-weight="bold" text-anchor="end" transform="rotate(-90 189.6 506.2)">Lactate</text>
<text x="218.6" y="506.2" font-size="8.3" stroke="#000" stroke-width="0.55" font-weight="bold" text-anchor="end" transform="rotate(-90 218.6 506.2)">ATP</text>
<text x="247.8" y="506.2" font-size="8.3" stroke="#000" stroke-width="0.55" font-weight="bold" text-anchor="end" transform="rotate(-90 247.8 506.2)">Lactate</text>
<text x="276.9" y="506.2" font-size="8.3" stroke="#000" stroke-width="0.55" font-weight="bold" text-anchor="end" transform="rotate(-90 276.9 506.2)">ATP</text>
<text x="306.1" y="506.2" font-size="8.3" stroke="#000" stroke-width="0.55" font-weight="bold" text-anchor="end" transform="rotate(-90 306.1 506.2)">Lactate</text>
<text x="334.8" y="506.2" font-size="8.3" stroke="#000" stroke-width="0.55" font-weight="bold" text-anchor="end" transform="rotate(-90 334.8 506.2)">ATP</text>
<line x1="230.6" y1="503" x2="230.6" y2="557" stroke="#000" stroke-width="1.5"/>
<line x1="288.7" y1="502.3" x2="288.7" y2="557" stroke="#000" stroke-width="1.5"/>
<text x="188.8" y="552.6" font-size="10.5" stroke="#000" stroke-width="0.35" textLength="21.5" lengthAdjust="spacingAndGlyphs">DEL</text>
<text x="238.2" y="553.1" font-size="10.5" stroke="#000" stroke-width="0.35" textLength="44.9" lengthAdjust="spacingAndGlyphs">SUDHL-1</text>
<text x="304" y="553.1" font-size="10.5" stroke="#000" stroke-width="0.35" textLength="29.2" lengthAdjust="spacingAndGlyphs">Jurkat</text>
<line x1="178.25" y1="384.1" x2="178.25" y2="394.5" stroke="#000" stroke-width="1.4"/>
<line x1="193.45" y1="384.1" x2="193.45" y2="394.5" stroke="#000" stroke-width="1.4"/>
<line x1="178.25" y1="389.2" x2="193.45" y2="389.2" stroke="#000" stroke-width="1.4"/>
<path d="M183.85 381.8V385.8M182.12 382.8L185.58 384.8M182.12 384.8L185.58 382.8" stroke="#000" stroke-width="1.1" fill="none"/>
<path d="M187.85 381.8V385.8M186.12 382.8L189.58 384.8M186.12 384.8L189.58 382.8" stroke="#000" stroke-width="1.1" fill="none"/>
<line x1="206.95" y1="384.1" x2="206.95" y2="394.5" stroke="#000" stroke-width="1.4"/>
<line x1="222.15" y1="384.1" x2="222.15" y2="394.5" stroke="#000" stroke-width="1.4"/>
<line x1="206.95" y1="389.2" x2="222.15" y2="389.2" stroke="#000" stroke-width="1.4"/>
<path d="M214.55 381.8V385.8M212.82 382.8L216.28 384.8M212.82 384.8L216.28 382.8" stroke="#000" stroke-width="1.1" fill="none"/>
<line x1="236.35" y1="384.1" x2="236.35" y2="394.5" stroke="#000" stroke-width="1.4"/>
<line x1="251.55" y1="384.1" x2="251.55" y2="394.5" stroke="#000" stroke-width="1.4"/>
<line x1="236.35" y1="389.2" x2="251.55" y2="389.2" stroke="#000" stroke-width="1.4"/>
<path d="M241.95 381.8V385.8M240.22 382.8L243.68 384.8M240.22 384.8L243.68 382.8" stroke="#000" stroke-width="1.1" fill="none"/>
<path d="M245.95 381.8V385.8M244.22 382.8L247.68 384.8M244.22 384.8L247.68 382.8" stroke="#000" stroke-width="1.1" fill="none"/>
<line x1="265.75" y1="384.1" x2="265.75" y2="394.5" stroke="#000" stroke-width="1.4"/>
<line x1="280.95" y1="384.1" x2="280.95" y2="394.5" stroke="#000" stroke-width="1.4"/>
<line x1="265.75" y1="389.2" x2="280.95" y2="389.2" stroke="#000" stroke-width="1.4"/>
<path d="M271.35 381.8V385.8M269.62 382.8L273.08 384.8M269.62 384.8L273.08 382.8" stroke="#000" stroke-width="1.1" fill="none"/>
<path d="M275.35 381.8V385.8M273.62 382.8L277.08 384.8M273.62 384.8L277.08 382.8" stroke="#000" stroke-width="1.1" fill="none"/>
<line x1="294.6" y1="384.1" x2="294.6" y2="394.5" stroke="#000" stroke-width="1.4"/>
<line x1="309.8" y1="384.1" x2="309.8" y2="394.5" stroke="#000" stroke-width="1.4"/>
<line x1="294.6" y1="389.2" x2="309.8" y2="389.2" stroke="#000" stroke-width="1.4"/>
<text x="302.2" y="385.9" font-size="7.5" stroke="#000" stroke-width="0.35" text-anchor="middle" textLength="10.6" lengthAdjust="spacingAndGlyphs">NS</text>
<line x1="323.7" y1="384.1" x2="323.7" y2="394.5" stroke="#000" stroke-width="1.4"/>
<line x1="338.9" y1="384.1" x2="338.9" y2="394.5" stroke="#000" stroke-width="1.4"/>
<line x1="323.7" y1="389.2" x2="338.9" y2="389.2" stroke="#000" stroke-width="1.4"/>
<text x="331.3" y="385.9" font-size="7.5" stroke="#000" stroke-width="0.35" text-anchor="middle" textLength="10.6" lengthAdjust="spacingAndGlyphs">NS</text>
<rect x="381.2" y="379.2" width="12.9" height="5.9" fill="#0a0ad6" stroke="#000" stroke-width="1"/>
<rect x="381.2" y="392.1" width="12.9" height="6.3" fill="#b30404" stroke="#000" stroke-width="1"/>
<text x="401.1" y="385.3" font-size="9.2" stroke="#000" stroke-width="0.35" textLength="27.4" lengthAdjust="spacingAndGlyphs">DMSO</text>
<text x="401.1" y="398.9" font-size="9.2" stroke="#000" stroke-width="0.35" textLength="19.1" lengthAdjust="spacingAndGlyphs">CEP</text>
</svg>
</body></html>
